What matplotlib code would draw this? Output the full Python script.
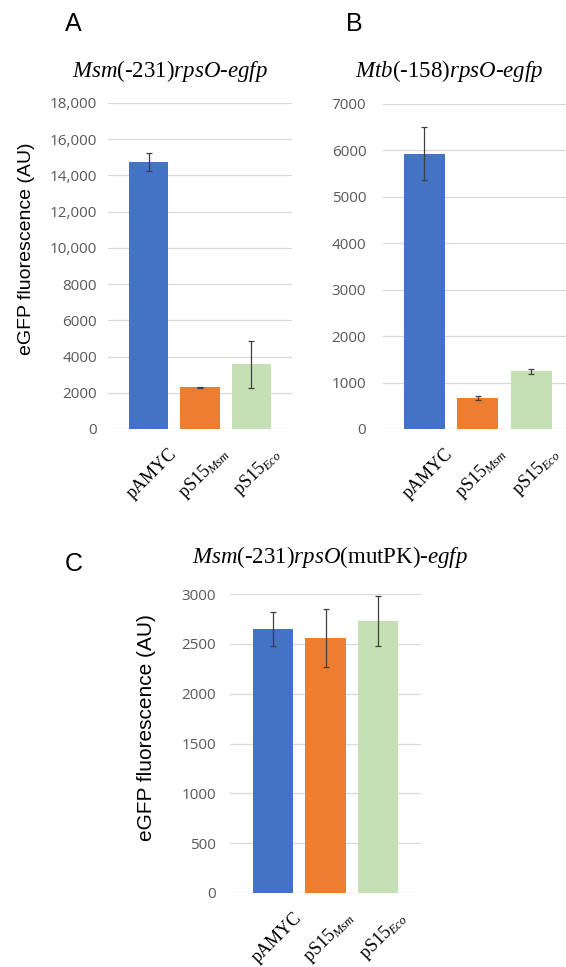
import matplotlib
matplotlib.use("Agg")
import matplotlib.pyplot as plt
import matplotlib.transforms as mtransforms

# Data
categories = ["pAMYC", r"pS15$_{Msm}$", r"pS15$_{Eco}$"]
colors = ["#4472C4", "#ED7D31", "#C5E0B4"]

a_values = [14750, 2300, 3570]
a_errors = [500, 30, 1300]
a_ticks = [0, 2000, 4000, 6000, 8000, 10000, 12000, 14000, 16000, 18000]
a_ticklabels = ["0", "2000", "4000", "6000", "8000", "10,000", "12,000", "14,000", "16,000", "18,000"]

b_values = [5930, 660, 1240]
b_errors = [570, 45, 60]
b_ticks = [0, 1000, 2000, 3000, 4000, 5000, 6000, 7000]
b_ticklabels = ["0", "1000", "2000", "3000", "4000", "5000", "6000", "7000"]

c_values = [2648, 2560, 2728]
c_errors = [172, 288, 248]
c_ticks = [0, 500, 1000, 1500, 2000, 2500, 3000]
c_ticklabels = ["0", "500", "1000", "1500", "2000", "2500", "3000"]

plt.rcParams['mathtext.fontset'] = 'custom'
plt.rcParams['mathtext.rm'] = 'Liberation Serif'
plt.rcParams['mathtext.it'] = 'Liberation Serif:italic'

W, H = 566, 967
fig = plt.figure(figsize=(W / 100, H / 100), dpi=100)


def rect(left, top, right, bottom):
    return [left / W, 1 - bottom / H, (right - left) / W, (bottom - top) / H]


def fxy(x, y):
    return x / W, 1 - y / H


def draw_panel(ax, values, errors, ticks, ticklabels, xlim, ypad):
    x = list(range(len(values)))
    ax.bar(x, values, width=0.76, color=colors, zorder=2)
    ax.errorbar(x, values, yerr=errors, fmt="none", ecolor="#404040",
                elinewidth=0.9, capsize=2.5, capthick=0.9, zorder=3)
    ax.set_xlim(*xlim)
    ax.set_ylim(ticks[0], ticks[-1])
    ax.set_yticks(ticks)
    ax.set_yticklabels(ticklabels, fontfamily="Open Sans", fontsize=11, color="#595959")
    ax.tick_params(axis="y", length=0, pad=ypad)
    ax.grid(axis="y", color="#D9D9D9", linewidth=0.9, zorder=0)
    for s in ax.spines.values():
        s.set_visible(False)
    ax.set_xticks(x)
    ax.set_xticklabels(categories, rotation=45, ha="right", va="center",
                       rotation_mode="anchor", fontfamily="Liberation Serif", fontsize=13)
    ax.tick_params(axis="x", length=0, pad=0)
    offset = mtransforms.ScaledTranslation(0.26, -0.22, fig.dpi_scale_trans)
    for lab in ax.get_xticklabels():
        lab.set_transform(lab.get_transform() + offset)


axA = fig.add_axes(rect(108, 103, 292, 429))
draw_panel(axA, a_values, a_errors, a_ticks, a_ticklabels, (-0.79, 2.79), 8)

axB = fig.add_axes(rect(383, 104, 566, 429))
draw_panel(axB, b_values, b_errors, b_ticks, b_ticklabels, (-0.77, 2.65), 12)

axC = fig.add_axes(rect(230, 594, 421, 893))
draw_panel(axC, c_values, c_errors, c_ticks, c_ticklabels, (-0.81, 2.81), 10)

# titles
title_kw = dict(ha="center", va="baseline", fontfamily="Liberation Serif", fontsize=16.5)
fig.text(*fxy(170, 77), r"$Msm$(-231)$rpsO$-$egfp$", **title_kw)
fig.text(*fxy(449, 77), r"$Mtb$(-158)$rpsO$-$egfp$", **title_kw)
fig.text(*fxy(330, 563), r"$Msm$(-231)$rpsO$(mutPK)-$egfp$", **title_kw)

# y labels
fig.text(*fxy(26.5, 249), "eGFP fluorescence (AU)", rotation=90, ha="center", va="center",
         fontfamily="Liberation Sans", fontsize=14)
fig.text(*fxy(146, 728), "eGFP fluorescence (AU)", rotation=90, ha="center", va="center",
         fontfamily="Liberation Sans", fontsize=15)

# panel letters
for letter, px, py in [("A", 73, 24), ("B", 354, 24), ("C", 74, 564)]:
    fig.text(*fxy(px, py), letter, ha="center", va="center",
             fontfamily="Liberation Sans", fontsize=18)

fig.savefig("out.png", dpi=100)
